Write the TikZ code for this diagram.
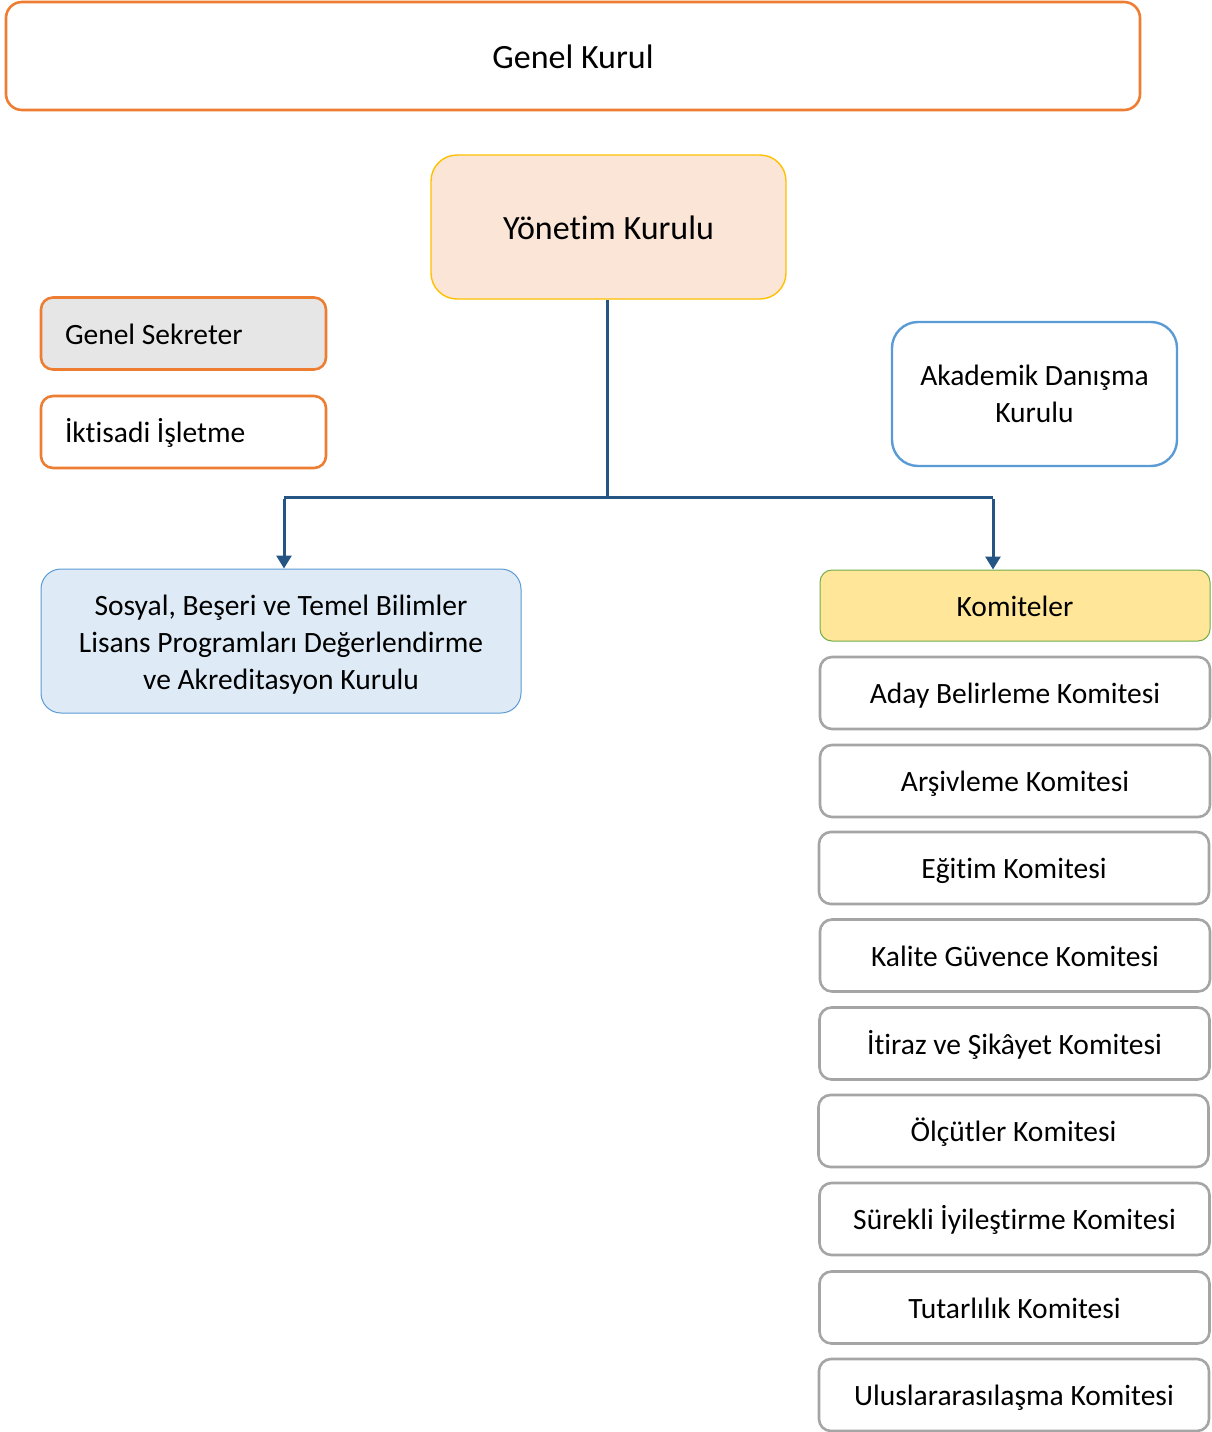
\documentclass[tikz,border=0pt]{standalone}
\usepackage{fontspec}
\setmainfont{Carlito}[Ligatures={NoCommon}]
\usetikzlibrary{arrows.meta}
\definecolor{orng}{HTML}{ED7D31}
\definecolor{gold}{HTML}{FFC000}
\definecolor{peach}{HTML}{FBE5D6}
\definecolor{lgray}{HTML}{E7E6E6}
\definecolor{bblue}{HTML}{5B9BD5}
\definecolor{lblue}{HTML}{DEEBF7}
\definecolor{lyel}{HTML}{FFE699}
\definecolor{grn}{HTML}{70AD47}
\definecolor{mgray}{HTML}{A5A5A5}
\definecolor{navy}{HTML}{255584}
\newcommand{\mlines}[2]{\raisebox{-#1}[\height][\depth]{\begin{tabular}{@{}c@{}}#2\end{tabular}}}
\tikzset{
  base/.style={rectangle, rounded corners=#1, inner sep=0pt, text=black},
  small/.style={font=\fontsize{29.5}{37}\selectfont},
  big/.style={font=\fontsize{34}{40}\selectfont},
  oneS/.style={small, text height=21pt, text depth=0pt},
  oneB/.style={big, text height=24pt, text depth=0pt},
  sidebox/.style={base=12pt, draw=orng, line width=2.6pt, minimum width=285pt, minimum height=72pt,
    text width=237pt, align=flush left, oneS},
  combox/.style={base=12pt, draw=mgray, line width=2.6pt, fill=white, minimum width=390pt, minimum height=72pt, oneS},
  conn/.style={draw=navy, line width=3pt},
  arr/.style={conn, -{Triangle[width=15pt,length=13pt]}}
}
\begin{document}
\begin{tikzpicture}[x=1pt,y=-1pt]
\useasboundingbox (0,0) rectangle (1211,1432);
\node[base=16pt, draw=orng, line width=2.6pt, minimum width=1134pt, minimum height=108pt, oneB] (gk) at (573,56) {Genel Kurul};
\node[base=26pt, draw=gold, line width=1.4pt, fill=peach, minimum width=355pt, minimum height=144pt, oneB] (yk) at (608.5,227) {Yönetim Kurulu};
\node[sidebox, fill=lgray] (gs) at (183.5,333.5) {Genel Sekreter};
\node[sidebox, fill=white] (ii) at (183.5,432) {İktisadi İşletme};
\node[base=26pt, draw=bblue, line width=2.4pt, fill=white, minimum width=285pt, minimum height=144pt, small] (adk) at (1034.5,394) {\mlines{3pt}{Akademik Danışma\\Kurulu}};
\node[base=20pt, draw=bblue, line width=1pt, fill=lblue, minimum width=480pt, minimum height=144pt, small] (sb) at (281,641) {\mlines{4pt}{Sosyal, Beşeri ve Temel Bilimler\\Lisans Programları Değerlendirme\\ve Akreditasyon Kurulu}};
\node[base=12pt, draw=grn, line width=1pt, fill=lyel, minimum width=390pt, minimum height=71pt, oneS] (kom) at (1015,605.5) {Komiteler};
\node[combox] (c1) at (1015,693) {Aday Belirleme Komitesi};
\node[combox] (c2) at (1015,781) {Arşivleme Komitesi};
\node[combox] (c3) at (1014,868) {Eğitim Komitesi};
\node[combox] (c4) at (1015,955.5) {Kalite Güvence Komitesi};
\node[combox] (c5) at (1014.5,1043.5) {İtiraz ve Şikâyet Komitesi};
\node[combox] (c6) at (1013.5,1131) {Ölçütler Komitesi};
\node[combox] (c7) at (1014.5,1219) {Sürekli İyileştirme Komitesi};
\node[combox] (c8) at (1014.5,1307.5) {Tutarlılık Komitesi};
\node[combox] (c9) at (1014,1395) {Uluslararasılaşma Komitesi};
\coordinate (j) at (607,497);
\coordinate (jl) at (284,497);
\coordinate (jr) at (993,497);
\draw[conn] (yk.south -| j) -- ([yshift=1.5pt]j);
\draw[conn] (jl) -- (jr);
\draw[arr] ([yshift=-1.5pt]jl) -- (jl |- sb.north);
\draw[arr] ([yshift=-1.5pt]jr) -- (jr |- kom.north);
\end{tikzpicture}
\end{document}
